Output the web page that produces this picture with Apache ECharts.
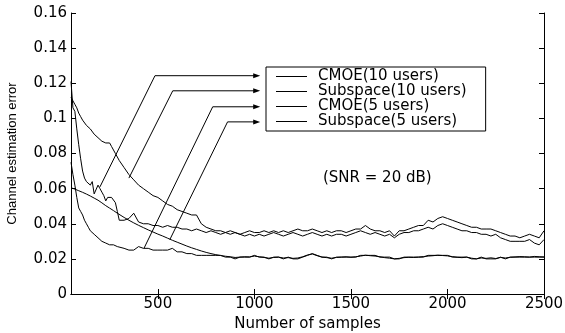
<!doctype html>
<html lang="en">
<head>
    <meta charset="utf-8">
    <title>Channel estimation error</title>
    <style>
        html, body { margin: 0; padding: 0; background: #fff; }
        #chart { width: 565px; height: 333px; }
    </style>
</head>
<body>
    <div id="chart"></div>
    <script src="https://cdn.jsdelivr.net/npm/echarts@6/dist/echarts.min.js"></script>
    <script>
        // sample index (x axis)
        var samples = [50, 60, 70, 80, 90, 100, 110, 120, 130, 140, 150, 160, 170, 180, 190, 200, 210, 220, 230, 240, 250, 260, 270, 280, 290, 300,
            325, 350, 375, 400, 425, 450, 475, 500,
            525, 550, 575, 600, 625, 650, 675, 700, 725, 750, 775, 800, 825, 850, 875, 900, 925, 950, 975, 1000,
            1025, 1050, 1075, 1100, 1125, 1150, 1175, 1200, 1225, 1250, 1275, 1300, 1325, 1350, 1375, 1400, 1425, 1450, 1475, 1500,
            1525, 1550, 1575, 1600, 1625, 1650, 1675, 1700, 1725, 1750, 1775, 1800, 1825, 1850, 1875, 1900, 1925, 1950, 1975, 2000,
            2025, 2050, 2075, 2100, 2125, 2150, 2175, 2200, 2225, 2250, 2275, 2300, 2325, 2350, 2375, 2400, 2425, 2450, 2475, 2500];

        var cmoe10 = [0.121, 0.106, 0.104, 0.094, 0.085, 0.077, 0.070, 0.066, 0.064, 0.065, 0.062, 0.064, 0.057, 0.056, 0.062, 0.060, 0.058, 0.056, 0.053, 0.055, 0.054, 0.055, 0.054, 0.052, 0.047, 0.042,
            0.042, 0.043, 0.046, 0.041, 0.040, 0.040, 0.039, 0.039,
            0.038, 0.039, 0.038, 0.038, 0.037, 0.037, 0.036, 0.037, 0.036, 0.035, 0.036, 0.035, 0.034, 0.035, 0.034, 0.035, 0.034, 0.033, 0.034, 0.033,
            0.034, 0.033, 0.034, 0.035, 0.034, 0.033, 0.034, 0.035, 0.034, 0.033, 0.034, 0.035, 0.034, 0.033, 0.034, 0.033, 0.034, 0.034, 0.033, 0.034,
            0.035, 0.036, 0.035, 0.034, 0.035, 0.034, 0.033, 0.034, 0.032, 0.034, 0.035, 0.035, 0.036, 0.036, 0.037, 0.038, 0.037, 0.039, 0.040, 0.039,
            0.038, 0.037, 0.036, 0.036, 0.035, 0.035, 0.034, 0.034, 0.033, 0.034, 0.032, 0.031, 0.030, 0.030, 0.030, 0.030, 0.031, 0.029, 0.028, 0.031];

        var subspace10 = [0.112, 0.110, 0.108, 0.106, 0.103, 0.101, 0.099, 0.098, 0.096, 0.095, 0.094, 0.093, 0.091, 0.090, 0.089, 0.088, 0.087, 0.087, 0.086, 0.087, 0.086, 0.084, 0.082, 0.080, 0.078, 0.076,
            0.072, 0.068, 0.065, 0.062, 0.060, 0.058, 0.056, 0.055,
            0.053, 0.051, 0.050, 0.048, 0.047, 0.046, 0.045, 0.045, 0.040, 0.038, 0.037, 0.036, 0.036, 0.035, 0.036, 0.035, 0.034, 0.035, 0.036, 0.035,
            0.035, 0.036, 0.035, 0.036, 0.035, 0.036, 0.035, 0.036, 0.037, 0.036, 0.036, 0.037, 0.036, 0.035, 0.036, 0.035, 0.036, 0.036, 0.035, 0.036,
            0.037, 0.037, 0.039, 0.037, 0.036, 0.036, 0.035, 0.036, 0.033, 0.036, 0.036, 0.037, 0.038, 0.039, 0.039, 0.042, 0.041, 0.043, 0.044, 0.043,
            0.042, 0.041, 0.040, 0.039, 0.038, 0.038, 0.037, 0.037, 0.037, 0.036, 0.035, 0.034, 0.033, 0.033, 0.032, 0.033, 0.034, 0.033, 0.032, 0.036];

        var cmoe5 = [0.075, 0.068, 0.062, 0.055, 0.049, 0.047, 0.045, 0.042, 0.040, 0.038, 0.036, 0.035, 0.034, 0.033, 0.032, 0.031, 0.030, 0.030, 0.029, 0.029, 0.028, 0.028, 0.028, 0.027, 0.027, 0.027,
            0.026, 0.025, 0.025, 0.027, 0.026, 0.026, 0.025, 0.025,
            0.025, 0.025, 0.026, 0.024, 0.024, 0.023, 0.023, 0.022, 0.022, 0.022, 0.022, 0.022, 0.022, 0.021, 0.021, 0.020, 0.021, 0.021, 0.021, 0.022,
            0.021, 0.021, 0.020, 0.021, 0.021, 0.020, 0.021, 0.020, 0.020, 0.021, 0.022, 0.023, 0.022, 0.021, 0.021, 0.020, 0.021, 0.021, 0.021, 0.021,
            0.021, 0.022, 0.022, 0.022, 0.022, 0.021, 0.021, 0.021, 0.020, 0.020, 0.021, 0.021, 0.021, 0.021, 0.021, 0.022, 0.022, 0.022, 0.022, 0.022,
            0.021, 0.021, 0.021, 0.021, 0.020, 0.020, 0.021, 0.020, 0.020, 0.020, 0.021, 0.020, 0.021, 0.021, 0.021, 0.021, 0.021, 0.021, 0.021, 0.021];

        var subspace5 = [0.0605, 0.0600, 0.0597, 0.0593, 0.0588, 0.0584, 0.0579, 0.0574, 0.0569, 0.0563, 0.0558, 0.0552, 0.0546, 0.0540, 0.0534, 0.0526, 0.0519, 0.0511, 0.0503, 0.0496, 0.0489, 0.0482, 0.0475, 0.0468, 0.0460, 0.0453,
            0.0436, 0.0420, 0.0405, 0.0391, 0.0378, 0.0365, 0.0353, 0.0341,
            0.0330, 0.0318, 0.0306, 0.0295, 0.0284, 0.0273, 0.0263, 0.0254, 0.0245, 0.0237, 0.0230, 0.0224, 0.0219, 0.0215, 0.0212, 0.0208, 0.0210, 0.0212, 0.0211, 0.0216,
            0.0212, 0.0208, 0.0204, 0.0208, 0.0210, 0.0205, 0.0207, 0.0203, 0.0205, 0.0212, 0.0222, 0.0228, 0.0218, 0.0210, 0.0207, 0.0204, 0.0208, 0.0210, 0.0212, 0.0209,
            0.0212, 0.0216, 0.0221, 0.0218, 0.0216, 0.0212, 0.0207, 0.0204, 0.0200, 0.0203, 0.0207, 0.0209, 0.0208, 0.0210, 0.0213, 0.0216, 0.0218, 0.0221, 0.0219, 0.0217,
            0.0213, 0.0209, 0.0207, 0.0210, 0.0204, 0.0200, 0.0205, 0.0203, 0.0206, 0.0202, 0.0208, 0.0205, 0.0209, 0.0211, 0.0213, 0.0212, 0.0210, 0.0214, 0.0212, 0.0211];

        var seriesNames = ['CMOE(10 users)', 'Subspace(10 users)', 'CMOE(5 users)', 'Subspace(5 users)'];
        var seriesValues = [cmoe10, subspace10, cmoe5, subspace5];
        var xTicks = [500, 1000, 1500, 2000, 2500];

        // arrows: point on curve -> elbow -> legend entry (data coords)
        var arrowPoints = [
            [[200, 0.061], [485, 0.1243], [1030, 0.1243]],
            [[350, 0.066], [577, 0.1157], [1030, 0.1157]],
            [[428, 0.026], [784, 0.1066], [1030, 0.1066]],
            [[562, 0.031], [861, 0.0980], [1030, 0.0980]]
        ];

        var font = 'DejaVu Sans';
        var chart = echarts.init(document.getElementById('chart'), null, { width: 565, height: 333 });

        function pairs(vals) {
            return samples.map(function (s, i) { return [s, vals[i]]; });
        }

        var series = seriesNames.map(function (name, k) {
            return {
                name: name,
                type: 'line',
                data: pairs(seriesValues[k]),
                showSymbol: false,
                symbol: 'none',
                animation: false,
                lineStyle: { color: '#000', width: 1 },
                itemStyle: { color: '#000' }
            };
        });

        chart.setOption({
            backgroundColor: '#fff',
            animation: false,
            grid: { left: 71, right: 21, top: 13, bottom: 39, outerBoundsMode: 'none' },
            legend: {
                data: seriesNames,
                orient: 'vertical',
                left: 266,
                top: 67,
                padding: [2, 19, 2, 10],
                itemGap: 0,
                itemWidth: 31,
                itemHeight: 1,
                icon: 'rect',
                borderColor: '#000',
                borderWidth: 1,
                backgroundColor: '#fff',
                textStyle: { fontFamily: font, fontSize: 15, color: '#000', padding: [0, 0, 0, 6] }
            },
            xAxis: [{
                type: 'value',
                min: 50,
                max: 2500,
                name: 'Number of samples',
                nameLocation: 'middle',
                nameGap: 18,
                nameTextStyle: { fontFamily: font, fontSize: 15, color: '#000' },
                axisLine: { lineStyle: { color: '#000', width: 1 } },
                axisTick: { inside: true, length: 5, customValues: xTicks, lineStyle: { color: '#000' } },
                axisLabel: {
                    customValues: xTicks, margin: 3, fontFamily: font, fontSize: 15, color: '#000',
                    formatter: function (v) { return String(v); }
                },
                splitLine: { show: false }
            }, {
                type: 'value',
                position: 'top',
                min: 50,
                max: 2500,
                axisLine: { lineStyle: { color: '#000', width: 1 } },
                axisTick: { inside: true, length: 5, customValues: xTicks, lineStyle: { color: '#000' } },
                axisLabel: { show: false },
                splitLine: { show: false }
            }],
            yAxis: [{
                type: 'value',
                min: 0,
                max: 0.16,
                interval: 0.02,
                name: 'Channel estimation error',
                nameLocation: 'middle',
                nameGap: 52,
                nameTextStyle: { fontFamily: 'Liberation Sans', fontSize: 13, color: '#000' },
                axisLine: { show: true, lineStyle: { color: '#000', width: 1 } },
                axisTick: { show: true, inside: true, length: 5, lineStyle: { color: '#000' } },
                axisLabel: { margin: 4, fontFamily: font, fontSize: 15, color: '#000' },
                splitLine: { show: false }
            }, {
                type: 'value',
                position: 'right',
                min: 0,
                max: 0.16,
                interval: 0.02,
                axisLine: { show: true, lineStyle: { color: '#000', width: 1 } },
                axisTick: { show: true, inside: true, length: 5, lineStyle: { color: '#000' } },
                axisLabel: { show: false },
                splitLine: { show: false }
            }],
            series: series
        });

        var graphics = [];
        arrowPoints.forEach(function (pts) {
            var px = pts.map(function (p) {
                return chart.convertToPixel({ xAxisIndex: 0, yAxisIndex: 0 }, p);
            });
            var tip = px[2];
            graphics.push({
                type: 'polyline',
                shape: { points: [px[0], px[1], [tip[0] - 5, tip[1]]] },
                style: { stroke: '#000', lineWidth: 1, fill: null },
                z: 100
            });
            graphics.push({
                type: 'polygon',
                shape: { points: [[tip[0], tip[1]], [tip[0] - 7, tip[1] - 2.5], [tip[0] - 7, tip[1] + 2.5]] },
                style: { fill: '#000' },
                z: 100
            });
        });
        graphics.push({
            type: 'text',
            left: 323,
            top: 171,
            style: { text: '(SNR = 20 dB)', font: '15px "DejaVu Sans"', fill: '#000' }
        });
        chart.setOption({ graphic: graphics });
    </script>
</body>
</html>
